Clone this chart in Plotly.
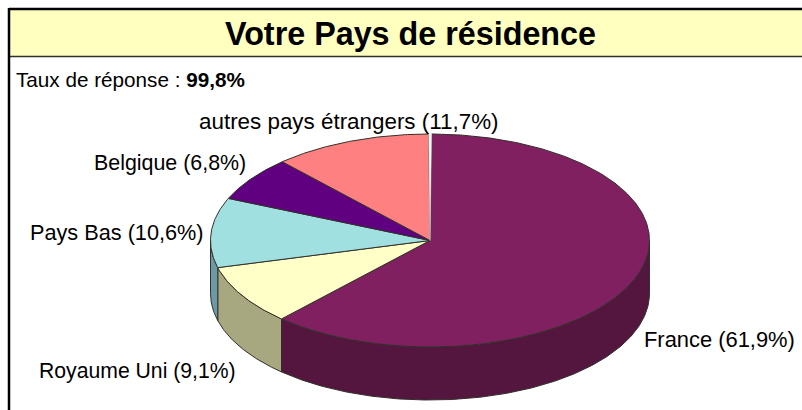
import math
import plotly.graph_objects as go

categories = ["France", "Royaume Uni", "Pays Bas", "Belgique", "autres pays étrangers"]
values = [61.9, 9.1, 10.6, 6.8, 11.7]
unlabelled_share = [0.2]
top_colors = ["#802060", "#FFFFC8", "#A0E0E0", "#600080", "#FF8080"]
side_colors = ["#54163F", "#A8A880", "#6A9AA6", "#400055", "#A85555"]
title_text = "Votre Pays de résidence"
response_label = "Taux de réponse : "
response_value = "99,8%"

CX, CY, RX, RY, DEPTH = 430.0, 240.5, 219.5, 106.5, 53.0
LINE = "#33302A"
START_DEG = 0.4
label_pos = [(642, 339), (37, 370.5), (28, 232), (92, 163), (197, 121)]
label_size = [21.9, 21.2, 21.7, 21.4, 22.4]


def pt(deg, dy=0.0):
    a = math.radians(deg)
    return CX + RX * math.sin(a), CY - RY * math.cos(a) + dy


def arc(a0, a1, dy=0.0):
    n = max(2, int(abs(a1 - a0) * 2))
    return [pt(a0 + (a1 - a0) * i / n, dy) for i in range(n + 1)]


fig = go.Figure()


def poly(points, fill, line=LINE, width=1):
    xs, ys = zip(*points)
    fig.add_trace(go.Scatter(x=list(xs), y=list(ys), mode="lines", fill="toself", fillcolor=fill,
                             line=dict(color=line, width=width), hoverinfo="skip", showlegend=False))


shapes = [
    dict(type="rect", x0=9, x1=802, y0=10, y1=56, fillcolor="#FFFFC0", line=dict(width=0), layer="below"),
    dict(type="line", x0=9, x1=802, y0=56.5, y1=56.5, line=dict(color="#33302A", width=1.5), layer="below"),
    dict(type="line", x0=9, x1=802, y0=9, y1=9, line=dict(color="#000000", width=2.5), layer="below"),
    dict(type="line", x0=9, x1=9, y0=8, y1=410, line=dict(color="#000000", width=2.5), layer="below"),
]

total = sum(values) + sum(unlabelled_share)
angles = [START_DEG]
for v in values:
    angles.append(angles[-1] + v / total * 360.0)

for i in range(len(values)):
    a0, a1 = max(angles[i], 90.0), min(angles[i + 1], 270.0)
    if a1 > a0:
        poly(arc(a0, a1) + arc(a1, a0, DEPTH) + [pt(a0)], side_colors[i])

for i in range(len(values)):
    poly([(CX, CY)] + arc(angles[i], angles[i + 1]) + [(CX, CY)], top_colors[i])

# thin unlabelled slice closing the pie at twelve o'clock
gap_end = angles[-1] + unlabelled_share[0] / total * 360.0
poly([(CX, CY)] + arc(angles[-1], gap_end) + [(CX, CY)], "#F4F4F4", line="#F4F4F4", width=0.5)

annotations = [
    dict(x=410.5, y=33.5, text=f"<b>{title_text}</b>", font=dict(size=32.3), xanchor="center"),
    dict(x=14, y=79.5, text=f"{response_label}<b>{response_value}</b>", font=dict(size=20.7), xanchor="left"),
]
for c, v, (x, y), s in zip(categories, values, label_pos, label_size):
    annotations.append(dict(x=x, y=y, text=f"{c} ({v:.1f}%)".replace(".", ","), font=dict(size=s), xanchor="left"))
for a in annotations:
    a.update(xref="x", yref="y", showarrow=False, yanchor="middle")
    a["font"].update(family="Liberation Sans, Arial, sans-serif", color="#000000")

fig.update_layout(
    width=802, height=410, margin=dict(l=0, r=0, t=0, b=0),
    paper_bgcolor="#FFFFFF", plot_bgcolor="#FFFFFF", showlegend=False,
    xaxis=dict(range=[0, 802], visible=False, fixedrange=True),
    yaxis=dict(range=[410, 0], visible=False, fixedrange=True),
    shapes=shapes, annotations=annotations,
)
fig.write_html("out.html", config={"displayModeBar": False},
               post_script="document.body.style.margin='0';document.body.style.overflow='hidden';")
